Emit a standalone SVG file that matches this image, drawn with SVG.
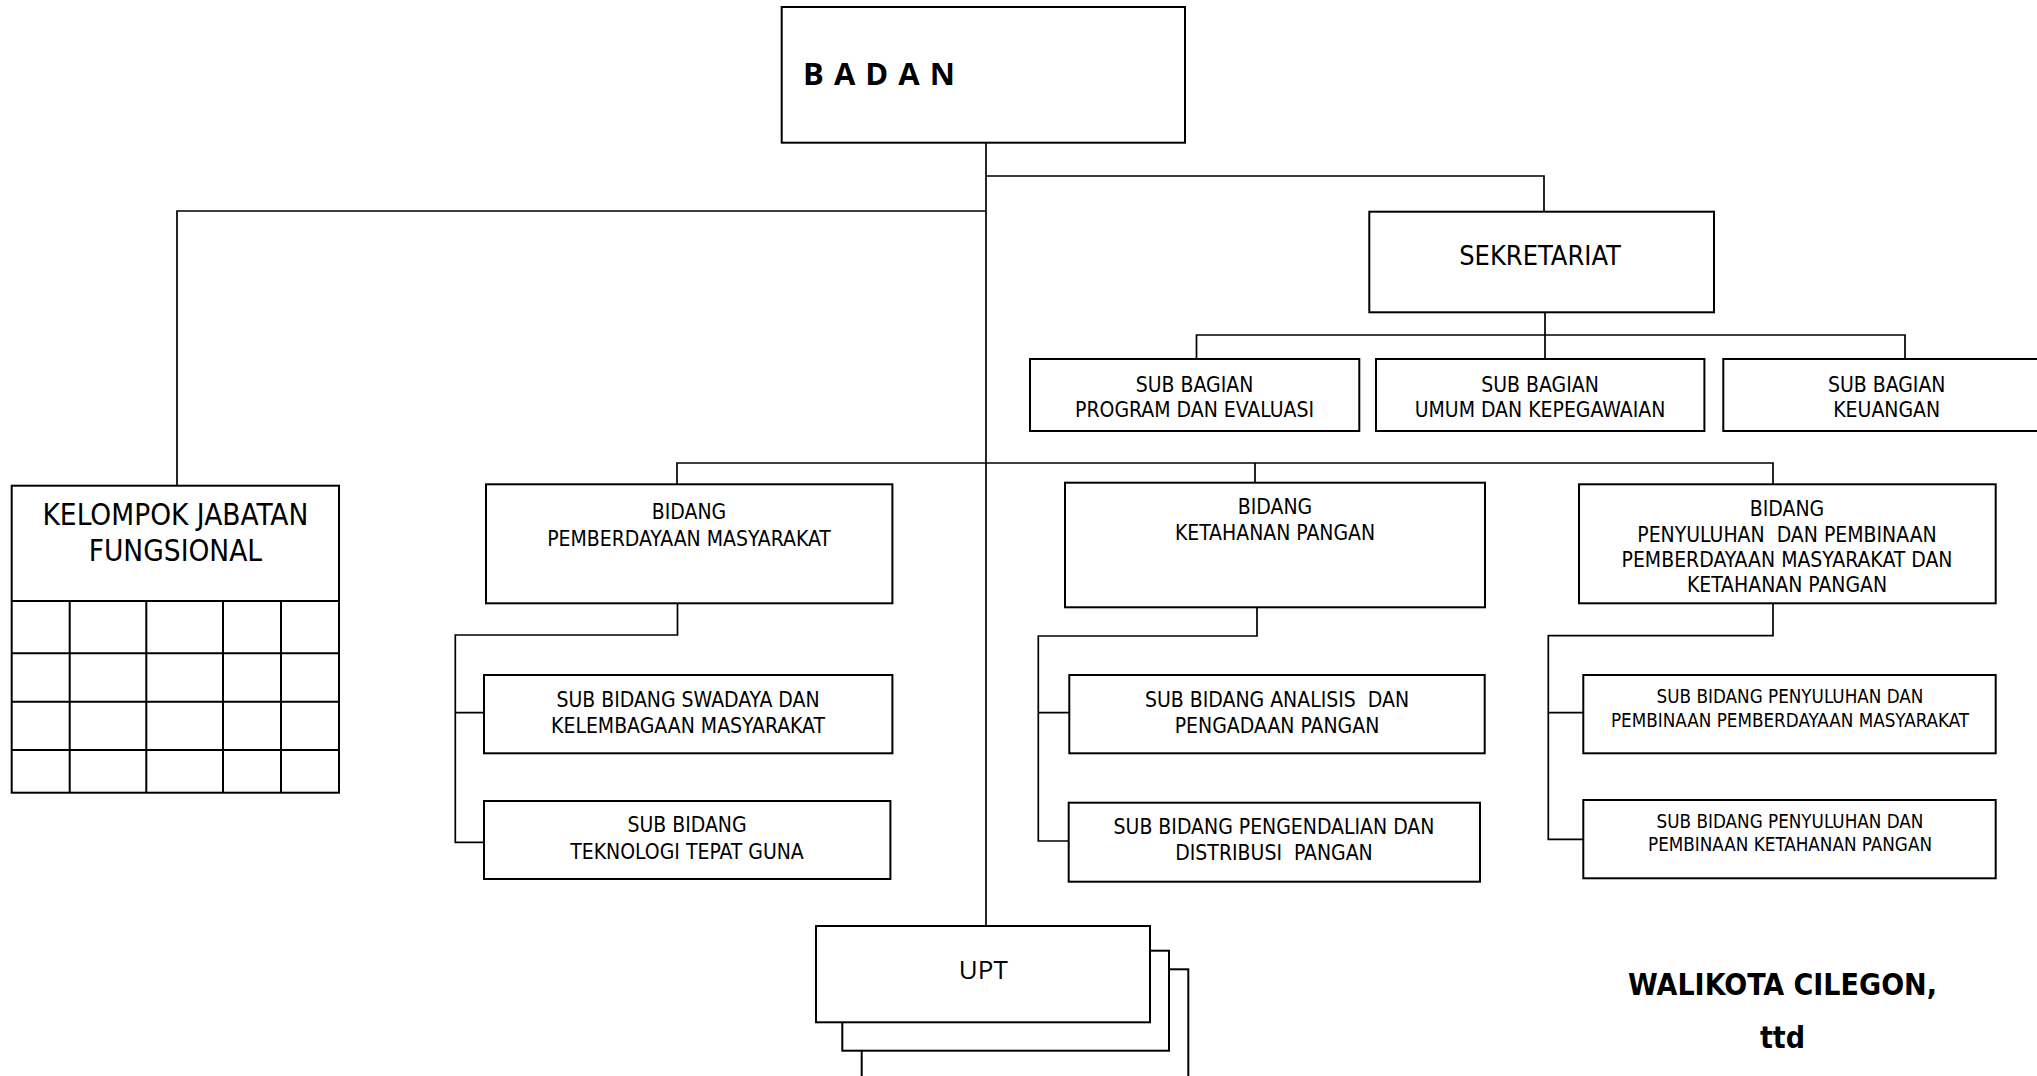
<svg xmlns="http://www.w3.org/2000/svg" width="2037" height="1076" viewBox="0 0 2037 1076">
<style>
.box{fill:#fff;stroke:#000;stroke-width:2}
.ln{fill:none;stroke:#000;stroke-width:1.7}
text{font-family:"DejaVu Sans Condensed","DejaVu Sans",sans-serif;font-stretch:condensed;fill:#000;text-anchor:middle}
.t21{font-size:21px}
.t18{font-size:18.7px}
.big{font-size:27px}
.kel{font-size:29.5px}
.os{font-family:"Open Sans",sans-serif;font-stretch:normal}
.bold{font-weight:bold}
</style>
<rect width="2037" height="1076" fill="#fff"/>
<g id="connectors">
<path class="ln" d="M986,143 V926"/>
<path class="ln" d="M986,211 H177 V486"/>
<path class="ln" d="M986,176 H1544 V212"/>
<path class="ln" d="M1545,312 V359 M1196.5,359 V335 H1905 V359"/>
<path class="ln" d="M677,484 V463 H1773 V484 M1255,463 V483"/>
<path class="ln" d="M677.5,603 V635 H455.3 V842.3 H484 M455.3,712.7 H484"/>
<path class="ln" d="M1257,607 V636 H1038.3 V841 H1069 M1038.3,712.7 H1069"/>
<path class="ln" d="M1773,603 V635.7 H1548.3 V839.3 H1583 M1548.3,712.7 H1583"/>
</g>
<g id="badan">
<rect class="box" x="781.7" y="7" width="403.3" height="135.7"/>
<text class="os bold" x="803" y="85" style="font-size:31px;text-anchor:start" textLength="152" lengthAdjust="spacing">B A D A N</text>
</g>
<g id="sekretariat">
<rect class="box" x="1369.3" y="211.7" width="344.7" height="100.6"/>
<text class="big" x="1540" y="265">SEKRETARIAT</text>
</g>
<g id="sub-program">
<rect class="box" x="1030" y="359" width="329.3" height="72"/>
<text class="t21" x="1194.5" y="391.7">SUB BAGIAN</text>
<text class="t21" x="1194.5" y="416.5">PROGRAM DAN EVALUASI</text>
</g>
<g id="sub-umum">
<rect class="box" x="1376" y="359" width="328.4" height="72"/>
<text class="t21" x="1540" y="391.7">SUB BAGIAN</text>
<text class="t21" x="1540" y="416.5">UMUM DAN KEPEGAWAIAN</text>
</g>
<g id="sub-keuangan">
<rect class="box" x="1723.3" y="359" width="330" height="72"/>
<text class="t21" x="1886.7" y="391.7">SUB BAGIAN</text>
<text class="t21" x="1886.7" y="416.5">KEUANGAN</text>
</g>
<g id="kelompok">
<rect class="box" x="11.7" y="485.7" width="327.3" height="307"/>
<path class="ln" d="M11.7,601 H339 M11.7,653.3 H339 M11.7,701.7 H339 M11.7,750 H339 M69.7,601 V792.7 M146.3,601 V792.7 M223,601 V792.7 M281,601 V792.7" style="stroke-width:2"/>
<text class="kel" x="175.4" y="525">KELOMPOK JABATAN</text>
<text class="kel" x="175.4" y="560.7">FUNGSIONAL</text>
</g>
<g id="bidang-pm">
<rect class="box" x="486" y="484.3" width="406.4" height="119"/>
<text class="t21" x="689" y="519.3">BIDANG</text>
<text class="t21" x="689" y="546">PEMBERDAYAAN MASYARAKAT</text>
</g>
<g id="sub-swadaya">
<rect class="box" x="484" y="675" width="408.4" height="78.3"/>
<text class="t21" x="688" y="706.7">SUB BIDANG SWADAYA DAN</text>
<text class="t21" x="688" y="732.7">KELEMBAGAAN MASYARAKAT</text>
</g>
<g id="sub-teknologi">
<rect class="box" x="484" y="801" width="406.4" height="78"/>
<text class="t21" x="687" y="832.3">SUB BIDANG</text>
<text class="t21" x="687" y="859">TEKNOLOGI TEPAT GUNA</text>
</g>
<g id="bidang-kp">
<rect class="box" x="1065" y="482.7" width="420" height="124.6"/>
<text class="t21" x="1275" y="514">BIDANG</text>
<text class="t21" x="1275" y="540">KETAHANAN PANGAN</text>
</g>
<g id="sub-analisis">
<rect class="box" x="1069.3" y="675" width="415.4" height="78.3"/>
<text class="t21" x="1277" y="706.7" xml:space="preserve">SUB BIDANG ANALISIS  DAN</text>
<text class="t21" x="1277" y="732.7">PENGADAAN PANGAN</text>
</g>
<g id="sub-pengendalian">
<rect class="box" x="1068.7" y="802.7" width="411.3" height="79"/>
<text class="t21" x="1274" y="834">SUB BIDANG PENGENDALIAN DAN</text>
<text class="t21" x="1274" y="860" xml:space="preserve">DISTRIBUSI  PANGAN</text>
</g>
<g id="bidang-penyuluhan">
<rect class="box" x="1579" y="484.3" width="416.7" height="119"/>
<text class="t21" x="1787" y="516">BIDANG</text>
<text class="t21" x="1787" y="541.7" xml:space="preserve">PENYULUHAN  DAN PEMBINAAN</text>
<text class="t21" x="1787" y="567.3">PEMBERDAYAAN MASYARAKAT DAN</text>
<text class="t21" x="1787" y="592.3">KETAHANAN PANGAN</text>
</g>
<g id="sub-penyuluhan-pm">
<rect class="box" x="1583.3" y="675" width="412.4" height="78.3"/>
<text class="t18" x="1790" y="703.3">SUB BIDANG PENYULUHAN DAN</text>
<text class="t18" x="1790" y="726.7">PEMBINAAN PEMBERDAYAAN MASYARAKAT</text>
</g>
<g id="sub-penyuluhan-kp">
<rect class="box" x="1583.3" y="800" width="412.4" height="78.3"/>
<text class="t18" x="1790" y="828.3">SUB BIDANG PENYULUHAN DAN</text>
<text class="t18" x="1790" y="850.7">PEMBINAAN KETAHANAN PANGAN</text>
</g>
<g id="upt">
<rect class="box" x="861.7" y="969.3" width="326.6" height="130"/>
<rect class="box" x="842.3" y="950.7" width="326.7" height="100"/>
<rect class="box" x="816" y="926" width="334" height="96.3"/>
<text class="os" x="983.3" y="979" style="font-size:26px">UPT</text>
</g>
<g id="signature">
<text class="bold" x="1782.5" y="995" style="font-size:30px">WALIKOTA CILEGON,</text>
<text class="bold" x="1782.5" y="1048.3" style="font-size:30px">ttd</text>
</g>
</svg>
